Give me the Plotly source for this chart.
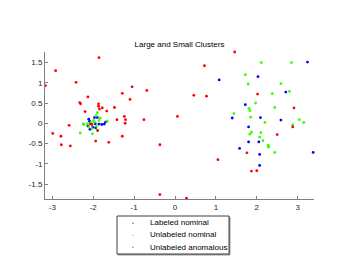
import plotly.graph_objects as go

# ---- data ----
blue_x = [-2.11, -1.97, -1.90, -2.09, -1.95, -1.86, -1.79, -1.73, -2.13, -2.01, -1.94, -2.08, -1.70,
          1.08, 2.03, 3.24, 1.72, 1.40, 1.80, 1.80, 2.05, 1.58, 2.07, 2.07, 2.71, 2.09, 2.59, 3.38]
blue_y = [0.10, 0.14, 0.14, 0.05, -0.01, -0.02, -0.03, -0.02, -0.07, -0.10, -0.11, -0.15, 0.03,
          1.07, 1.15, 1.51, 0.46, 0.13, -0.09, -0.46, -0.46, -0.62, -0.77, -1.04, 0.77, 0.14, 0.08, -0.72]

green_x = [-1.90, -1.93, -1.99, -1.86, -1.83, -1.66, -2.24, -2.14, -2.23, -2.11, -1.92, -2.03, -1.90,
           -2.32, -2.02, -2.05, -1.97,
           1.72, 1.79, 1.97, 1.81, 1.83, 1.44, 1.85, 1.87, 1.83, 2.07, 2.11, 2.85, 2.59, 2.38, 2.80,
           2.44, 2.20, 3.04, 3.15, 2.88, 2.10, 2.15, 2.28, 2.29, 2.44]
green_y = [0.26, 0.19, 0.07, 0.07, 0.13, 0.05, -0.01, -0.01, -0.03, -0.09, -0.07, -0.13, -0.17,
           -0.24, -0.26, 0.02, 0.03,
           1.20, 0.97, 0.50, 0.37, 0.31, 0.24, 0.15, -0.22, -0.27, -0.34, 1.50, 1.50, 0.98, 0.73, 0.79,
           0.39, 0.02, 0.09, 0.02, -0.04, -0.23, -0.43, -0.54, -0.59, -0.72]

red_x = [-1.86, -2.92, -3.17, -2.42, -2.13, -2.33, -2.31, -1.87, -1.87, -1.85, -1.78, -2.20, -1.67,
         -1.48, -1.29, -1.05, -0.69, -1.10, -1.24, -1.42, -1.21, -1.22, -0.76, -2.59, -2.99, -2.79,
         -1.29, -2.07, -2.03, -1.89, -2.78, -2.56, -1.94, -1.62, -0.37, -0.37, 0.06, 0.28, 1.46,
         0.72, 0.46, 0.77, 2.02, 1.76, 1.05, 1.87, 2.00, 2.91, 2.88, 2.50]
red_y = [1.62, 1.30, 0.93, 1.01, 0.65, 0.51, 0.48, 0.48, 0.42, 0.35, 0.38, 0.29, 0.30,
         0.39, 0.74, 0.90, 0.81, 0.59, 0.17, 0.09, 0.09, 0.00, 0.09, -0.05, -0.25, -0.32,
         -0.32, -0.02, -0.03, -0.18, -0.53, -0.56, -0.44, -0.47, -0.53, -1.76, 0.17, -1.85, 1.76,
         1.42, 0.69, 0.67, 0.72, -0.73, -0.90, -1.18, -1.17, 0.38, -0.09, -0.28]

series_names = ["Labeled nominal", "Unlabeled nominal", "Unlabeled anomalous"]
series_colors = ["#0000ff", "#33ff00", "#ff0000"]

x_ticks = [-3, -2, -1, 0, 1, 2, 3]
x_tick_text = ["-3", "-2", "-1", "0", "1", "2", "3"]
y_ticks = [-1.5, -1, -0.5, 0, 0.5, 1, 1.5]
y_tick_text = ["-1.5", "-1", "-0.5", "0", "0.5", "1", "1.5"]

title_text = "Large and Small Clusters"

# ---- figure ----
fig = go.Figure()
for xs, ys, name, col in zip([blue_x, green_x, red_x], [blue_y, green_y, red_y],
                             series_names, series_colors):
    fig.add_trace(go.Scatter(x=xs, y=ys, mode="markers", name=name,
                             marker=dict(color=col, size=2.8, line=dict(width=0)),
                             showlegend=False, cliponaxis=False))

W, H = 346, 260
L, R, T, B = 45, 32, 52, 61
pw, ph = W - L - R, H - T - B

def px_x(p):
    return (p - L) / pw

def px_y(p):
    return (H - B - p) / ph

axis_col = "#808080"
font_fam = "Liberation Sans, Arial, sans-serif"

fig.update_layout(
    width=W, height=H,
    margin=dict(l=L, r=R, t=T, b=B),
    paper_bgcolor="white", plot_bgcolor="white",
    font=dict(family=font_fam, size=8, color="#262626"),
    title=dict(text=title_text, x=(L + pw / 2) / W,
               xanchor="center", xref="container",
               y=1 - 44 / H, yanchor="middle", yref="container",
               font=dict(size=8, color="#000000")),
    xaxis=dict(range=[-3.18, 3.40], tickvals=x_ticks, ticktext=x_tick_text,
               showgrid=False, zeroline=False, showline=True, linecolor=axis_col, linewidth=1,
               ticks="inside", ticklen=3, tickcolor=axis_col, mirror=False),
    yaxis=dict(range=[-1.87, 1.76], tickvals=y_ticks, ticktext=y_tick_text,
               showgrid=False, zeroline=False, showline=True, linecolor=axis_col, linewidth=1,
               ticks="inside", ticklen=3, tickcolor=axis_col, mirror=False),
)

# ---- legend box (drawn manually to match compact row spacing) ----
box_l, box_r, box_t, box_b = 117, 229, 216, 254
fig.add_shape(type="rect", xref="paper", yref="paper",
              x0=px_x(box_l + 1), x1=px_x(box_r + 1), y0=px_y(box_b + 1), y1=px_y(box_t + 1),
              line=dict(color="#9a9a9a", width=1), fillcolor="#9a9a9a", layer="below")
fig.add_shape(type="rect", xref="paper", yref="paper",
              x0=px_x(box_l), x1=px_x(box_r), y0=px_y(box_b), y1=px_y(box_t),
              line=dict(color="#404040", width=1), fillcolor="white")
row_y = [222.5, 234.8, 247]
for name, col, ry in zip(series_names, series_colors, row_y):
    fig.add_annotation(x=px_x(133), y=px_y(ry), xref="paper", yref="paper",
                       text="●", showarrow=False, xanchor="center", yanchor="middle",
                       font=dict(size=3, color=col))
    fig.add_annotation(x=px_x(148), y=px_y(ry), xref="paper", yref="paper",
                       text=name, showarrow=False, xanchor="left", yanchor="middle",
                       font=dict(size=8, color="#000000"))

fig.write_html("out.html", config={"displayModeBar": False},
               post_script="document.body.style.margin='0';document.body.style.overflow='hidden';")
